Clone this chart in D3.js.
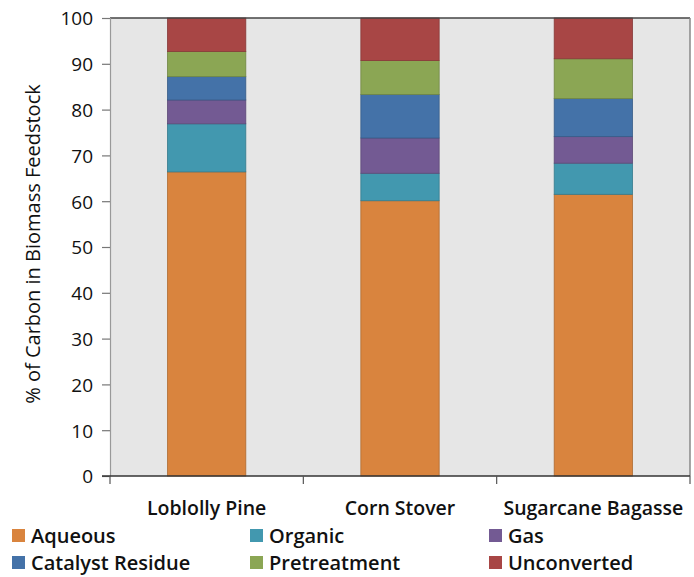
<!DOCTYPE html>
<html>
<head>
<meta charset="utf-8">
<script src="https://cdn.jsdelivr.net/npm/d3@7"></script>
<style>
  html, body { margin: 0; padding: 0; background: #fff; }
  svg { display: block; }
  text { font-family: "Open Sans", "DejaVu Sans", sans-serif; fill: #111; }
</style>
</head>
<body>
<svg id="chart" width="694" height="577"></svg>
<script>
// Carbon fate by feedstock (% of carbon in biomass feedstock)
const categories = ["Loblolly Pine", "Corn Stover", "Sugarcane Bagasse"];
const seriesNames = ["Aqueous", "Organic", "Gas", "Catalyst Residue", "Pretreatment", "Unconverted"];
const aqueous      = [66.4, 60.1, 61.5];
const organic      = [10.5,  6.0,  6.8];
const gas          = [ 5.2,  7.7,  5.8];
const catalyst     = [ 5.1,  9.5,  8.3];
const pretreatment = [ 5.5,  7.4,  8.7];
const unconverted  = [ 7.3,  9.3,  8.9];
const yTicks = [0, 10, 20, 30, 40, 50, 60, 70, 80, 90, 100];
const colors = ["#D9843E", "#4298AF", "#735A93", "#4472A8", "#8BA654", "#A84645"];

const seriesValues = [aqueous, organic, gas, catalyst, pretreatment, unconverted];
const rows = categories.map((c, i) => {
  const r = { category: c };
  seriesNames.forEach((s, k) => { r[s] = seriesValues[k][i]; });
  return r;
});

const svg = d3.select("#chart");
const plot = { left: 110, right: 690, top: 18, bottom: 476 };

const x = d3.scaleBand().domain(categories).range([plot.left, plot.right]).paddingInner(0.595).paddingOuter(0.2975);
const y = d3.scaleLinear().domain([0, 100]).range([plot.bottom, plot.top]);

// plot background
svg.append("rect")
  .attr("x", plot.left).attr("y", plot.top)
  .attr("width", plot.right - plot.left).attr("height", plot.bottom - plot.top)
  .attr("fill", "#E6E6E6");

// stacked bars
const stack = d3.stack().keys(seriesNames)(rows);
const layers = svg.append("g").selectAll("g").data(stack).join("g")
  .attr("fill", (d, i) => colors[i]);
layers.selectAll("rect").data(d => d).join("rect")
  .attr("x", d => x(d.data.category))
  .attr("width", x.bandwidth())
  .attr("y", d => y(d[1]))
  .attr("height", d => y(d[0]) - y(d[1]))
  .attr("stroke", function() { return d3.color(d3.select(this.parentNode).attr("fill")).darker(0.6); })
  .attr("stroke-width", 0.8);

// plot frame: top and right
svg.append("line").attr("x1", plot.left).attr("x2", plot.right).attr("y1", plot.top).attr("y2", plot.top)
  .attr("stroke", "#444").attr("stroke-width", 1.5);
svg.append("line").attr("x1", plot.right).attr("x2", plot.right).attr("y1", plot.top).attr("y2", plot.bottom)
  .attr("stroke", "#888").attr("stroke-width", 1.5);

// y axis
const yAxis = svg.append("g").attr("transform", `translate(${plot.left},0)`)
  .call(d3.axisLeft(y).tickValues(yTicks).tickSize(8).tickPadding(9));
yAxis.select(".domain").attr("stroke", "#999").attr("stroke-width", 1.2);
yAxis.selectAll(".tick line").attr("stroke", "#777").attr("stroke-width", 1.2);
yAxis.selectAll(".tick text").style("font-size", "19px").style("font-weight", "500").attr("fill", "#111").attr("dy", "0.36em");

// x axis with ticks at category boundaries
const boundaries = [plot.left, ...categories.slice(1).map(c => x(c) - x.step() * x.paddingInner() / 2), plot.right];
svg.append("line").attr("x1", plot.left - 8).attr("x2", plot.right).attr("y1", plot.bottom).attr("y2", plot.bottom)
  .attr("stroke", "#333").attr("stroke-width", 1.5);
svg.append("g").selectAll("line").data(boundaries).join("line")
  .attr("x1", d => d).attr("x2", d => d)
  .attr("y1", plot.bottom).attr("y2", plot.bottom + 8)
  .attr("stroke", "#555").attr("stroke-width", 1.2);
svg.append("g").selectAll("text").data(categories).join("text")
  .attr("x", d => x(d) + x.bandwidth() / 2)
  .attr("y", 515)
  .attr("text-anchor", "middle")
  .style("font-size", "19.5px").style("font-weight", "600")
  .text(d => d);

// y axis title
svg.append("text")
  .attr("transform", `translate(40,${(75 + 413) / 2}) rotate(-90)`)
  .attr("text-anchor", "middle")
  .style("font-size", "20px").style("font-weight", "500")
  .text("% of Carbon in Biomass Feedstock");

// legend: three columns, two rows
const legendCols = [12, 250, 489];
const legendRows = [536, 563];
const legend = svg.append("g").selectAll("g").data(seriesNames).join("g")
  .attr("transform", (d, i) => `translate(${legendCols[i % 3]},${legendRows[Math.floor(i / 3)]})`);
legend.append("rect").attr("x", 0).attr("y", -7).attr("width", 13).attr("height", 13)
  .attr("fill", (d, i) => colors[i]);
legend.append("text").attr("x", 19).attr("y", 0).attr("dy", "0.36em")
  .style("font-size", "20px").style("font-weight", "600")
  .text(d => d);
</script>
</body>
</html>
